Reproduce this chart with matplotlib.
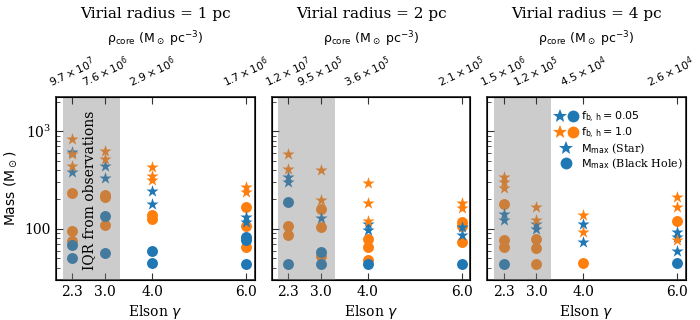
import matplotlib.pyplot as plt
from matplotlib.legend_handler import HandlerTuple
from matplotlib.lines import Line2D
from matplotlib.ticker import NullFormatter
from matplotlib.transforms import ScaledTranslation

plt.rcParams["font.family"] = ["DejaVu Serif"]
plt.rcParams["mathtext.fontset"] = "dejavusans"

# ── Data ─────────────────────────────────────────────────────────────────────

gamma = [2.3, 3.0, 4.0, 6.0]
radii = [1, 2, 4]

rho_1pc = [r"$9.7\times10^{7}$", r"$7.6\times10^{6}$", r"$2.9\times10^{6}$", r"$1.7\times10^{6}$"]
rho_2pc = [r"$1.2\times10^{7}$", r"$9.5\times10^{5}$", r"$3.6\times10^{5}$", r"$2.1\times10^{5}$"]
rho_4pc = [r"$1.5\times10^{6}$", r"$1.2\times10^{5}$", r"$4.5\times10^{4}$", r"$2.6\times10^{4}$"]

# max stellar mass, f_bh = 0.05 / 1.0, one list per gamma
star_lo_1pc = [[610, 378], [438, 328], [245, 180], [133, 118]]
star_hi_1pc = [[828, 577, 441], [620, 513], [431, 346, 316], [269, 239]]
star_lo_2pc = [[341, 303], [128], [112, 97], [105, 86]]
star_hi_2pc = [[577, 405], [399, 197], [296, 185, 121], [185, 162]]
star_lo_4pc = [[141, 123], [112, 100], [112, 73], [93, 83, 59]]
star_hi_4pc = [[336, 303, 259], [166, 122], [138, 92], [210, 168, 77]]

# max black hole mass, f_bh = 0.05 / 1.0
bh_lo_1pc = [[69, 50], [136, 57], [59, 45], [82, 77, 44]]
bh_hi_1pc = [[233, 94, 75], [223, 213, 109], [138, 125], [168, 107, 66]]
bh_lo_2pc = [[189, 44], [58, 44], [44], [44]]
bh_hi_2pc = [[107, 86], [159, 105, 53], [78, 66, 48], [118, 107, 74]]
bh_lo_4pc = [[44], [], [], [45]]
bh_hi_4pc = [[179, 77, 66], [78, 63, 44], [45], [120]]

iqr_gamma = (2.09, 3.31)

BLUE, ORANGE = "#1f77b4", "#ff7f0e"
SPINE = "#333333"


def flatten(per_gamma):
    xs, ys = [], []
    for g, vals in zip(gamma, per_gamma):
        xs += [g] * len(vals)
        ys += vals
    return xs, ys


panels = [
    (rho_1pc, star_lo_1pc, star_hi_1pc, bh_lo_1pc, bh_hi_1pc),
    (rho_2pc, star_lo_2pc, star_hi_2pc, bh_lo_2pc, bh_hi_2pc),
    (rho_4pc, star_lo_4pc, star_hi_4pc, bh_lo_4pc, bh_hi_4pc),
]

fig, axes = plt.subplots(1, 3, figsize=(7, 3.2), sharey=True)
fig.subplots_adjust(left=0.08, right=0.98, bottom=0.125, top=0.698, wspace=0.084)

for i, (ax, r, (rho, s_lo, s_hi, b_lo, b_hi)) in enumerate(zip(axes, radii, panels)):
    for data, color in [(b_hi, ORANGE), (b_lo, BLUE)]:
        ax.scatter(*flatten(data), marker="o", s=62, color=color, linewidths=0, zorder=2)
    for data, color in [(s_lo, BLUE), (s_hi, ORANGE)]:
        ax.scatter(*flatten(data), marker="*", s=85, color=color, linewidths=0, zorder=2)

    ax.axvspan(*iqr_gamma, color="grey", alpha=0.4, lw=0, zorder=3)

    ax.set_yscale("log")
    ax.set_ylim(30, 2250)
    ax.set_xlim(1.95, 6.19)
    ax.set_xticks(gamma)
    ax.set_xticklabels([f"{g:.1f}" for g in gamma], fontsize=10)
    ax.set_xlabel(r"Elson $\gamma$", fontsize=10, labelpad=3)
    ax.tick_params(which="both", direction="in", top=False, right=False, color=SPINE)
    ax.tick_params(which="major", length=5)
    ax.tick_params(which="minor", length=3)
    for sp in ax.spines.values():
        sp.set_color(SPINE)
        sp.set_linewidth(1.3)

    top = ax.twiny()
    top.set_xlim(ax.get_xlim())
    top.set_xticks(gamma)
    tls = top.set_xticklabels(rho, rotation=25, fontsize=7.8)
    top.tick_params(direction="in", length=5, color=SPINE, pad=5)
    top.set_xlabel(r"$\rm \rho_{core}\ (M_\odot\ pc^{-3})$", fontsize=9)
    top.xaxis.set_label_coords(0.5, 1.29)
    top.set_title(f"Virial radius = {r} pc", fontsize=11, y=1.43, pad=0)
    if i == 2:
        # keep the last label inside the canvas
        last = tls[-1]
        last.set_transform(last.get_transform() + ScaledTranslation(-5 / 72, 0, fig.dpi_scale_trans))

axes[0].set_yticks([100, 1000])
axes[0].set_yticklabels(["100", r"$\mathdefault{10^{3}}$"], fontsize=10)
axes[0].yaxis.set_minor_formatter(NullFormatter())
axes[0].set_ylabel(r"$\rm Mass\ (M_\odot)$", fontsize=10)

axes[0].text(2.655, 250, "IQR from observations", rotation=90, ha="center", va="center",
             fontsize=10, zorder=4)

mk = dict(linestyle="none", markeredgewidth=0)
handles = [
    (Line2D([], [], marker="*", color=BLUE, markersize=10, **mk),
     Line2D([], [], marker="o", color=BLUE, markersize=8.5, **mk)),
    (Line2D([], [], marker="*", color=ORANGE, markersize=10, **mk),
     Line2D([], [], marker="o", color=ORANGE, markersize=8.5, **mk)),
    Line2D([], [], marker="*", color=BLUE, markersize=10, **mk),
    Line2D([], [], marker="o", color=BLUE, markersize=8.5, **mk),
]
labels = [r"$\rm f_{b,\,h} = 0.05$", r"$\rm f_{b,\,h} = 1.0$",
          r"$\rm M_{max}$ (Star)", r"$\rm M_{max}$ (Black Hole)"]
axes[2].legend(handles, labels, handler_map={tuple: HandlerTuple(ndivide=None, pad=0.3)},
               loc="upper right", bbox_to_anchor=(1.05, 1.0), frameon=False, fontsize=8,
               handlelength=2.0, handletextpad=0.3, labelspacing=0.05, borderaxespad=0.8)

fig.savefig("out.png", dpi=100)
